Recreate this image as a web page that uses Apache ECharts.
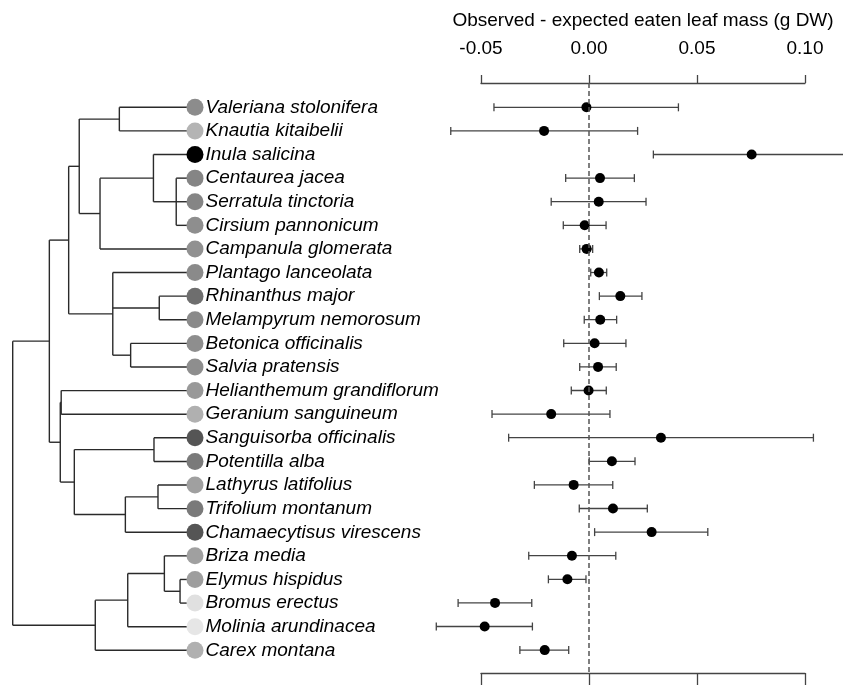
<!DOCTYPE html>
<html>
<head>
<meta charset="utf-8">
<script src="https://cdn.jsdelivr.net/npm/echarts@6/dist/echarts.min.js"></script>
<style>
html,body{margin:0;padding:0;background:#fff;}
#chart{width:843px;height:686px;}
</style>
</head>
<body>
<div id="chart"></div>
<script>
// ---- Data ----
const species = [
  'Valeriana stolonifera','Knautia kitaibelii','Inula salicina','Centaurea jacea',
  'Serratula tinctoria','Cirsium pannonicum','Campanula glomerata','Plantago lanceolata',
  'Rhinanthus major','Melampyrum nemorosum','Betonica officinalis','Salvia pratensis',
  'Helianthemum grandiflorum','Geranium sanguineum','Sanguisorba officinalis','Potentilla alba',
  'Lathyrus latifolius','Trifolium montanum','Chamaecytisus virescens','Briza media',
  'Elymus hispidus','Bromus erectus','Molinia arundinacea','Carex montana'
];
const estimate = [-0.0012,-0.0208,0.0753,0.0051,0.0045,-0.0020,-0.0011,0.0046,
  0.0145,0.0052,0.0026,0.0042,-0.0002,-0.0175,0.0333,0.0106,
  -0.0071,0.0111,0.0290,-0.0079,-0.0100,-0.0435,-0.0483,-0.0205];
const lower = [-0.0440,-0.0640,0.0298,-0.0108,-0.0175,-0.0119,-0.0043,0.0008,
  0.0048,-0.0022,-0.0117,-0.0043,-0.0082,-0.0449,-0.0372,0.0001,
  -0.0253,-0.0045,0.0026,-0.0279,-0.0188,-0.0606,-0.0707,-0.0320];
const upper = [0.0414,0.0225,0.1210,0.0210,0.0264,0.0079,0.0017,0.0082,
  0.0245,0.0128,0.0171,0.0126,0.0080,0.0097,0.1039,0.0213,
  0.0110,0.0270,0.0550,0.0124,-0.0014,-0.0265,-0.0262,-0.0094];
// grey level of each species' circle (0 = black, 255 = white)
const shade = [140,180,0,133,133,142,145,138,110,138,142,142,
  153,176,85,122,160,122,85,160,158,224,230,176];
const xTicks = [-0.05, 0.10, 0.05]; // min, max, interval
// phylogeny: [nodeDepth, children]; leaves are species names
const tree = [0, [
  [20.1, [
    [30.7, [
      [36.5, [
        [58.5, ['Valeriana stolonifera','Knautia kitaibelii']],
        [47.9, [
          [77.2, ['Inula salicina', [89.7, ['Centaurea jacea','Serratula tinctoria','Cirsium pannonicum']]]],
          'Campanula glomerata'
        ]]
      ]],
      [54.9, ['Plantago lanceolata',
        [80.4, ['Rhinanthus major','Melampyrum nemorosum']],
        [64.7, ['Betonica officinalis','Salvia pratensis']]]]
    ]],
    [26.1, [
      [26.6, ['Helianthemum grandiflorum','Geranium sanguineum']],
      [33.8, [
        [77.5, ['Sanguisorba officinalis','Potentilla alba']],
        [61.8, [[79.7, ['Lathyrus latifolius','Trifolium montanum']], 'Chamaecytisus virescens']]
      ]]
    ]]
  ]],
  [45.3, [
    [63.1, [
      [83.2, ['Briza media', [91.8, ['Elymus hispidus','Bromus erectus']]]],
      'Molinia arundinacea'
    ]],
    'Carex montana'
  ]]
]];
const tipDepth = 100;

// ---- Build tree segments ----
const segs = [];
function layout(node) {
  if (typeof node === 'string') return {x: tipDepth, y: species.indexOf(node)};
  const d = node[0];
  const kids = node[1].map(layout);
  const y0 = kids[0].y, y1 = kids[kids.length - 1].y;
  segs.push([d, y0, d, y1]);
  kids.forEach(k => segs.push([d, k.y, k.x, k.y]));
  return {x: d, y: (y0 + y1) / 2};
}
layout(tree);

const FONT = "'Liberation Sans', Arial, sans-serif";
const chart = echarts.init(document.getElementById('chart'), null, {renderer: 'canvas'});
const n = species.length;

chart.setOption({
  animation: false,
  backgroundColor: '#fff',
  grid: [
    {left: 12.7, width: 182.3, top: 95.5, height: 566.6},
    {left: 481, width: 324, top: 83, height: 590}
  ],
  xAxis: [
    {gridIndex: 0, type: 'value', min: 0, max: tipDepth, show: false},
    {gridIndex: 1, type: 'value', position: 'top', min: xTicks[0], max: xTicks[1], interval: xTicks[2],
      name: 'Observed - expected eaten leaf mass (g DW)', nameLocation: 'middle', nameGap: 53,
      nameTextStyle: {fontFamily: FONT, fontSize: 19, color: '#000'},
      axisLine: {show: true, onZero: false, lineStyle: {color: '#444', width: 1.3}},
      axisTick: {show: true, inside: false, length: 8, lineStyle: {color: '#444', width: 1.3}},
      axisLabel: {show: true, margin: 25, fontFamily: FONT, fontSize: 19, color: '#000',
        formatter: v => v.toFixed(2)},
      splitLine: {show: false}},
    {gridIndex: 1, type: 'value', position: 'bottom', min: xTicks[0], max: xTicks[1], interval: xTicks[2],
      axisLine: {show: true, onZero: false, lineStyle: {color: '#444', width: 1.3}},
      axisTick: {show: true, inside: false, length: 12, lineStyle: {color: '#444', width: 1.3}},
      axisLabel: {show: false},
      splitLine: {show: false}}
  ],
  yAxis: [
    {gridIndex: 0, type: 'value', inverse: true, min: -0.5, max: n - 0.5, show: false},
    {gridIndex: 1, type: 'value', inverse: true, min: -1.03, max: n - 0.03, show: false,
      axisLine: {onZero: false}}
  ],
  series: [
    {
      type: 'custom', xAxisIndex: 0, yAxisIndex: 0, clip: false, silent: true,
      data: segs,
      renderItem: (params, api) => {
        const p1 = api.coord([api.value(0), api.value(1)]);
        const p2 = api.coord([api.value(2), api.value(3)]);
        return {type: 'line', shape: {x1: p1[0], y1: p1[1], x2: p2[0], y2: p2[1]},
          style: {stroke: '#2a2a2a', lineWidth: 1.4}};
      },
      z: 1
    },
    {
      type: 'scatter', xAxisIndex: 0, yAxisIndex: 0, symbol: 'circle', symbolSize: 17, silent: true,
      data: species.map((s, i) => ({
        value: [tipDepth, i],
        itemStyle: {color: `rgb(${shade[i]},${shade[i]},${shade[i]})`, opacity: 1}
      })),
      itemStyle: {opacity: 1},
      label: {show: true, position: 'right', distance: 2,
        formatter: p => species[p.dataIndex],
        fontFamily: FONT, fontSize: 19, fontStyle: 'italic', color: '#000', opacity: 1},
      z: 3
    },
    {
      type: 'custom', xAxisIndex: 1, yAxisIndex: 1, clip: false, silent: true,
      data: species.map((s, i) => [lower[i], upper[i], i]),
      renderItem: (params, api) => {
        const a = api.coord([api.value(0), api.value(2)]);
        const b = api.coord([api.value(1), api.value(2)]);
        const h = 4;
        const st = {stroke: '#444', lineWidth: 1.3};
        return {type: 'group', children: [
          {type: 'line', shape: {x1: a[0], y1: a[1], x2: b[0], y2: b[1]}, style: st},
          {type: 'line', shape: {x1: a[0], y1: a[1] - h, x2: a[0], y2: a[1] + h}, style: st},
          {type: 'line', shape: {x1: b[0], y1: b[1] - h, x2: b[0], y2: b[1] + h}, style: st}
        ]};
      },
      z: 2
    },
    {
      type: 'scatter', xAxisIndex: 1, yAxisIndex: 1, symbol: 'circle', symbolSize: 10, silent: true,
      clip: false,
      itemStyle: {color: '#000', opacity: 1},
      data: species.map((s, i) => [estimate[i], i]),
      markLine: {
        silent: true, symbol: 'none', label: {show: false},
        lineStyle: {color: '#555', type: [5, 3], width: 1.5},
        data: [{xAxis: 0}]
      },
      z: 4
    }
  ]
});
</script>
</body>
</html>
